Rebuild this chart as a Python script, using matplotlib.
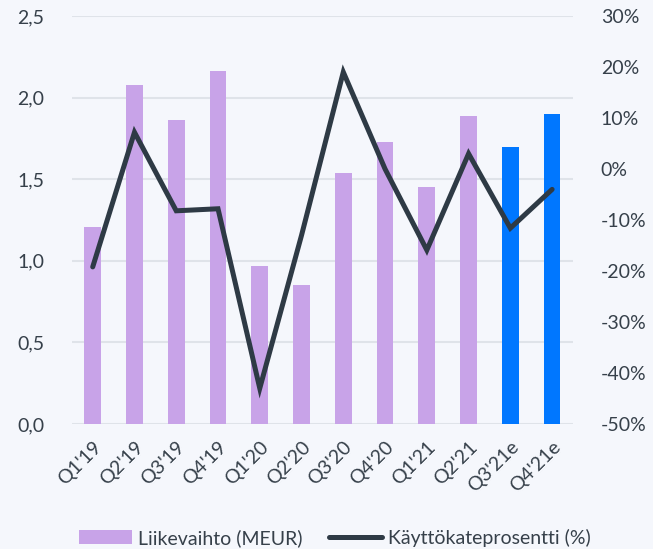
import numpy as np
import matplotlib
matplotlib.use("Agg")
import matplotlib.pyplot as plt
from matplotlib.ticker import FuncFormatter

quarters = ["Q1'19", "Q2'19", "Q3'19", "Q4'19", "Q1'20", "Q2'20",
            "Q3'20", "Q4'20", "Q1'21", "Q2'21", "Q3'21e", "Q4'21e"]
revenue = [1.21, 2.08, 1.86, 2.16, 0.97, 0.85, 1.54, 1.73, 1.45, 1.89, 1.70, 1.90]
ebitda_pct = [-19.2, 7.2, -8.2, -7.8, -43.0, -13.0, 19.0, 0.0, -15.9, 3.0, -11.6, -4.0]
estimate = [False] * 10 + [True] * 2

bg = "#F5F7FC"
purple = "#C8A3E8"
blue = "#0077FF"
dark = "#2E3A45"
text_col = "#36404A"
grid_col = "#DFE3E9"

plt.rcParams['font.family'] = ['Lato', 'DejaVu Sans']

fig = plt.figure(figsize=(6.53, 5.49), dpi=100, facecolor=bg)
ax = fig.add_axes([0.110, 0.2277, 0.7675, 0.7432], facecolor=bg)
ax2 = ax.twinx()

x = np.arange(len(quarters))
colors = [blue if e else purple for e in estimate]
bars = ax.bar(x, revenue, width=0.4, color=colors, zorder=2, label="Liikevaihto (MEUR)")
line, = ax2.plot(x, ebitda_pct, color=dark, lw=3.6, solid_capstyle='round',
                 solid_joinstyle='miter', zorder=3, label="Käyttökateprosentti (%)")

ax.set_xlim(-0.5, len(quarters) - 0.5)
ax.set_ylim(0, 2.5)
ax.set_yticks(np.arange(0, 2.51, 0.5))
ax.yaxis.set_major_formatter(FuncFormatter(lambda v, p: f"{v:.1f}".replace(".", ",")))
ax.grid(axis='y', color=grid_col, lw=1.5, zorder=0)
ax.set_axisbelow(True)

ax2.set_ylim(-50, 30)
ax2.set_yticks(np.arange(-50, 31, 10))
ax2.yaxis.set_major_formatter(FuncFormatter(lambda v, p: f"{v:.0f}%"))

ax.set_xticks(x)
ax.set_xticklabels(quarters, rotation=45, ha='right', rotation_mode='anchor')

for a in (ax, ax2):
    for s in a.spines.values():
        s.set_visible(False)
    a.tick_params(length=0, labelsize=14, colors=text_col)
ax.tick_params(axis='y', pad=20)
ax2.tick_params(axis='y', pad=20)
ax.tick_params(axis='x', pad=10)

# legend shows only the actuals colour for the bars
handles = [bars[0], line]
labels = ["Liikevaihto (MEUR)", "Käyttökateprosentti (%)"]
leg = fig.legend(handles, labels, loc='center', bbox_to_anchor=(0.513, 0.02),
                 ncol=2, frameon=False, fontsize=14, handlelength=2.7,
                 handleheight=0.7, columnspacing=1.4, handletextpad=0.3)
for t in leg.get_texts():
    t.set_color(text_col)

fig.savefig("out.png", dpi=100, facecolor=bg)
